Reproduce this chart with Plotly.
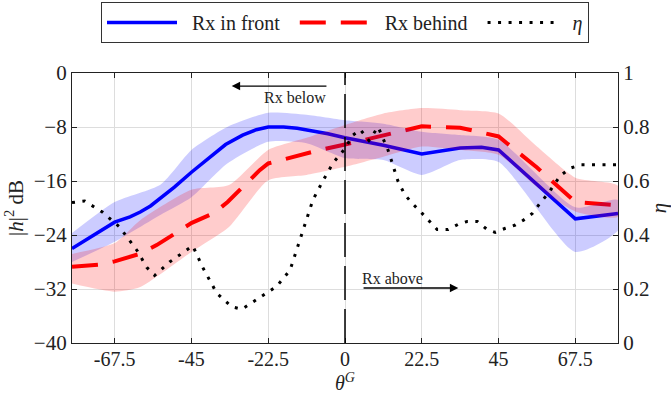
import plotly.graph_objects as go

# ---------------- data ----------------
x_ticks = [-67.5, -45, -22.5, 0, 22.5, 45, 67.5]
x_ticktext = ["-67.5", "-45", "-22.5", "0", "22.5", "45", "67.5"]
y_ticks = [-40, -32, -24, -16, -8, 0]
y2_ticks = [0, 0.2, 0.4, 0.6, 0.8, 1]
y2_ticktext = ["0", "0.2", "0.4", "0.6", "0.8", "1"]

# Rx in front (blue, solid)
front_x = [-80, -72, -67.5, -63, -60, -57, -54, -50, -45, -40, -35, -30, -26, -22.5, -18, -14, -10, -5, 0,
           11.25, 22.5, 33.75, 40, 45, 67.5, 80]
front_y = [-26.0, -23.6, -22.1, -21.3, -20.6, -19.7, -18.5, -16.9, -14.7, -12.6, -10.6, -9.2, -8.4, -8.0, -8.0,
           -8.2, -8.5, -9.0, -9.6, -10.7, -12.0, -11.1, -11.0, -11.4, -21.6, -20.8]
front_band_x = [-80, -67.5, -54, -45, -34.5, -22.5, -11.25, 0, 11.25, 22.5, 33.75, 45, 67.5, 80]
front_hi = [-23.7, -19.1, -16.5, -11.4, -8.0, -5.9, -6.2, -7.0, -7.5, -8.7, -9.2, -9.9, -19.9, -18.8]
front_lo = [-28.0, -25.0, -21.0, -18.4, -13.4, -10.2, -10.4, -12.6, -12.9, -15.1, -12.9, -13.2, -26.5, -23.3]

# Rx behind (red, dashed)
behind_x = [-80, -72, -67.5, -60.2, -55.2, -49.3, -44.9, -38.2, -34.4, -28.8, -25, -22.5, -15.3, -7.3, 0,
            11.25, 22.5, 33.75, 45, 56.25, 67.5, 80]
behind_y = [-28.7, -28.4, -27.9, -26.8, -25.5, -23.7, -22.2, -20.7, -19.1, -16.3, -14.4, -13.4, -12.4, -11.4, -10.6,
            -9.3, -7.9, -8.1, -9.4, -14.0, -19.1, -19.6]
behind_band_x = [-80, -67.5, -60, -45, -34, -22.5, -11.25, 0, 11.25, 22.5, 33.75, 45, 56.25, 67.5, 80]
behind_hi = [-26.8, -25.2, -21.8, -17.3, -16.6, -11.4, -9.6, -7.7, -6.0, -5.2, -5.5, -6.0, -10.9, -15.5, -16.7]
behind_lo = [-31.2, -32.4, -31.7, -26.5, -22.8, -15.9, -15.1, -13.9, -12.4, -10.9, -11.4, -12.1, -16.9, -20.5, -21.3]

# eta (black, dotted, right axis)
eta_x = [-80, -76.3, -71.1, -66.1, -60.8, -58.1, -55.8, -51.4, -44.6, -41.7, -37.6, -33.2, -30.2, -25.0,
         -20.0, -16.1, -13.2, -9.4, -6.5, -3.5, 0, 2.3, 4.5, 7.0, 9.7, 12.6, 13.5, 15.5, 17.5, 19.5, 22.6,
         27.0, 30.2, 33.2, 35.8, 38.8, 41.7, 44.0, 47.0, 49.9, 52.3, 54.9, 57.3, 59.6, 63.1, 66.1, 69.0, 80]
eta_y = [0.52, 0.526, 0.485, 0.43, 0.34, 0.28, 0.25, 0.30, 0.36, 0.28, 0.185, 0.134, 0.125, 0.167,
         0.21, 0.27, 0.38, 0.53, 0.60, 0.667, 0.72, 0.77, 0.79, 0.75, 0.80, 0.715, 0.68, 0.60, 0.55, 0.52, 0.48,
         0.42, 0.42, 0.44, 0.45, 0.45, 0.42, 0.41, 0.425, 0.437, 0.455, 0.48, 0.52, 0.555, 0.62, 0.648, 0.66, 0.66]

FONT = "'Liberation Serif', 'Times New Roman', Times, serif"
SP = "\u2002"

fig = go.Figure()

fig.add_trace(go.Scatter(x=front_x, y=front_y, mode="lines", name=SP + "Rx in front" + SP,
                         line=dict(color="#0000ff", width=3.5), legendrank=1))
fig.add_trace(go.Scatter(x=behind_x, y=behind_y, mode="lines", name=SP + "Rx behind" + SP,
                         line=dict(color="#ff0000", width=4, dash="26px,15px"), legendrank=2))

fig.add_trace(go.Scatter(x=front_band_x + front_band_x[::-1], y=front_hi + front_lo[::-1],
                         fill="toself", fillcolor="rgba(0,0,255,0.2)", line=dict(width=0, shape="spline", smoothing=0.6),
                         mode="lines", showlegend=False, hoverinfo="skip"))
fig.add_trace(go.Scatter(x=behind_band_x + behind_band_x[::-1], y=behind_hi + behind_lo[::-1],
                         fill="toself", fillcolor="rgba(255,0,0,0.2)", line=dict(width=0, shape="spline", smoothing=0.6),
                         mode="lines", showlegend=False, hoverinfo="skip"))

fig.add_trace(go.Scatter(x=eta_x, y=eta_y, mode="lines", name=SP + "<i>η</i>", yaxis="y2",
                         line=dict(color="#000000", width=3, dash="3px,7.5px"), legendrank=3))

fig.add_shape(type="line", x0=0, x1=0, y0=-40, y1=0, xref="x", yref="y",
              line=dict(color="#000000", width=1.5, dash="34px,9px"), layer="above")

ann_font = dict(family=FONT, size=16, color="#222")
fig.add_annotation(x=-14.8, y=-3.7, text="Rx below", showarrow=False, font=ann_font, xref="x", yref="y")
fig.add_annotation(x=-33.2, y=-1.93, ax=-5, ay=-1.93, axref="x", ayref="y", xref="x", yref="y",
                   text="", showarrow=True, arrowhead=2, arrowsize=1.3, arrowwidth=1.3, arrowcolor="#000",
                   standoff=0, startstandoff=0)
fig.add_annotation(x=13.8, y=-30.4, text="Rx above", showarrow=False, font=ann_font, xref="x", yref="y")
fig.add_annotation(x=33.2, y=-31.85, ax=5, ay=-31.85, axref="x", ayref="y", xref="x", yref="y",
                   text="", showarrow=True, arrowhead=2, arrowsize=1.3, arrowwidth=1.3, arrowcolor="#000",
                   standoff=0, startstandoff=0)

# x-axis title as an annotation below the tick labels
fig.add_annotation(x=0.5, y=-0.193, xref="paper", yref="paper", xanchor="center", yanchor="bottom",
                   text="<i>θ</i><sup><i>G</i></sup>", showarrow=False, borderpad=0,
                   font=dict(family=FONT, size=20, color="#222"))

tick_font = dict(family=FONT, size=21, color="#222")
fig.update_layout(
    width=671, height=396,
    margin=dict(l=72, r=53, t=73, b=53, autoexpand=False),
    paper_bgcolor="white", plot_bgcolor="white",
    font=dict(family=FONT, size=21, color="#222"),
    showlegend=True,
    legend=dict(orientation="h", x=0.5, xanchor="center", y=1.263, yanchor="top",
                bgcolor="white", bordercolor="#333", borderwidth=1,
                font=dict(family=FONT, size=20, color="#222"), itemwidth=70,
                tracegroupgap=0),
    xaxis=dict(range=[-80, 80], tickvals=x_ticks, ticktext=x_ticktext,
               tickfont=dict(family=FONT, size=20, color="#222"), ticklabelstandoff=-2,
               showgrid=True, gridcolor="#dddddd", gridwidth=1, zeroline=False,
               showline=True, linecolor="#222", linewidth=1.2, mirror="ticks",
               ticks="inside", ticklen=5, tickcolor="#222", automargin=False),
    yaxis=dict(range=[-40, 0], tickvals=y_ticks, tickfont=tick_font,
               showgrid=True, gridcolor="#dddddd", gridwidth=1, zeroline=False,
               showline=True, linecolor="#222", linewidth=1.2, mirror="ticks",
               ticks="inside", ticklen=5, tickcolor="#222", automargin=False,
               title=dict(text="|<i>h</i>|<sup>2</sup> dB", font=dict(family=FONT, size=21), standoff=4)),
    yaxis2=dict(range=[0, 1], tickvals=y2_ticks, ticktext=y2_ticktext, tickfont=tick_font,
                overlaying="y", side="right", showgrid=False, zeroline=False,
                showline=True, linecolor="#222", linewidth=1.2, automargin=False,
                ticks="inside", ticklen=5, tickcolor="#222",
                title=dict(text="<i>η</i>", font=dict(family=FONT, size=21), standoff=6)),
)

fig.write_html("out.html")
